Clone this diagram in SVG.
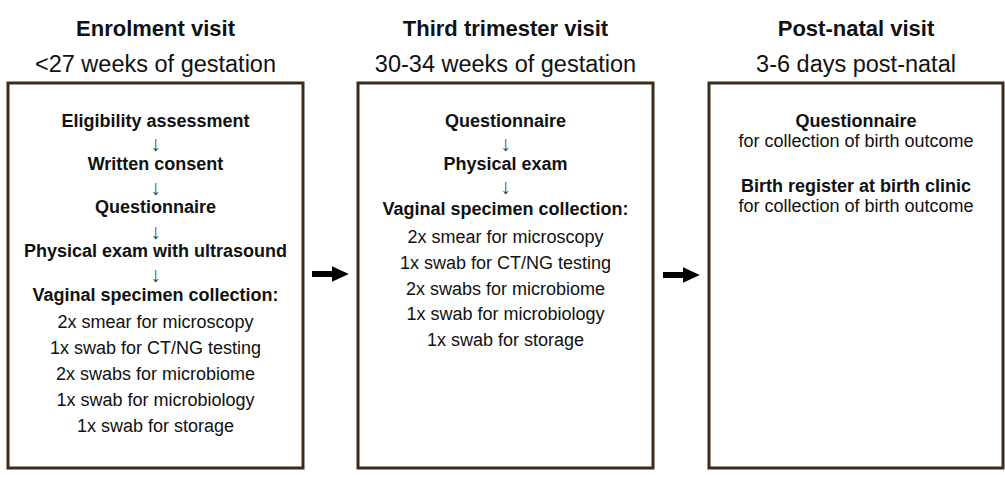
<svg xmlns="http://www.w3.org/2000/svg" width="1005" height="477" viewBox="0 0 1005 477">
<style>
text{font-family:"Liberation Sans",Arial,sans-serif;fill:#111;text-anchor:middle}
.t{font-size:22px;font-weight:bold}
.s{font-size:23.5px}
.b{font-size:18px;font-weight:bold}
.n{font-size:18px}
.a{font-size:21px;fill:#444}
.box{fill:#fff;stroke:#3d2a1b;stroke-width:3}
</style>
<defs>
<marker id="ah" markerWidth="2.8" markerHeight="2.6" refX="0" refY="1.3" orient="auto" markerUnits="strokeWidth">
<path d="M0,0 L2.8,1.3 L0,2.6 z" fill="#000"/>
</marker>
</defs>
<g id="enrolment">
<text class="t" x="155.5" y="36">Enrolment visit</text>
<text class="s" x="155.5" y="72">&lt;27 weeks of gestation</text>
<rect class="box" x="8" y="83" width="295" height="385"/>
<text class="b" x="155.5" y="127">Eligibility assessment</text>
<text class="a" x="155.5" y="151">↓</text>
<text class="b" x="155.5" y="170">Written consent</text>
<text class="a" x="155.5" y="195">↓</text>
<text class="b" x="155.5" y="213">Questionnaire</text>
<text class="a" x="155.5" y="239">↓</text>
<text class="b" x="155.5" y="257">Physical exam with ultrasound</text>
<text class="a" x="155.5" y="282">↓</text>
<text class="b" x="155.5" y="301">Vaginal specimen collection:</text>
<text class="n" x="155.5" y="328">2x smear for microscopy</text>
<text class="n" x="155.5" y="354">1x swab for CT/NG testing</text>
<text class="n" x="155.5" y="380">2x swabs for microbiome</text>
<text class="n" x="155.5" y="406">1x swab for microbiology</text>
<text class="n" x="155.5" y="432">1x swab for storage</text>
</g>
<g id="third-trimester">
<text class="t" x="505.5" y="36">Third trimester visit</text>
<text class="s" x="505.5" y="72">30-34 weeks of gestation</text>
<rect class="box" x="358" y="83" width="295" height="385"/>
<text class="b" x="505.5" y="127">Questionnaire</text>
<text class="a" x="505.5" y="151">↓</text>
<text class="b" x="505.5" y="170">Physical exam</text>
<text class="a" x="505.5" y="194">↓</text>
<text class="b" x="505.5" y="215">Vaginal specimen collection:</text>
<text class="n" x="505.5" y="243">2x smear for microscopy</text>
<text class="n" x="505.5" y="269">1x swab for CT/NG testing</text>
<text class="n" x="505.5" y="295">2x swabs for microbiome</text>
<text class="n" x="505.5" y="320">1x swab for microbiology</text>
<text class="n" x="505.5" y="346">1x swab for storage</text>
</g>
<g id="post-natal">
<text class="t" x="856" y="36">Post-natal visit</text>
<text class="s" x="856" y="72">3-6 days post-natal</text>
<rect class="box" x="709" y="83" width="294" height="385"/>
<text class="b" x="856" y="127">Questionnaire</text>
<text class="n" x="856" y="147">for collection of birth outcome</text>
<text class="b" x="856" y="192">Birth register at birth clinic</text>
<text class="n" x="856" y="212">for collection of birth outcome</text>
</g>
<g id="connectors" stroke="#000" stroke-width="6">
<line x1="312" y1="274" x2="332" y2="274" marker-end="url(#ah)"/>
<line x1="663" y1="275" x2="683" y2="275" marker-end="url(#ah)"/>
</g>
</svg>
